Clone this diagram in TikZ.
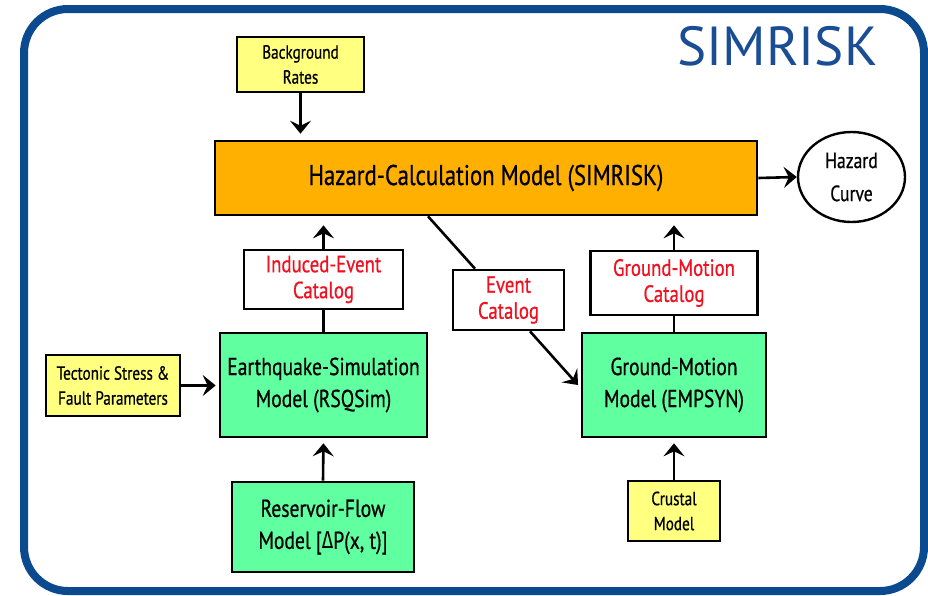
\documentclass[tikz,border=0pt]{standalone}
\usepackage{fontspec}
\setmainfont{PT Sans}[FakeStretch=0.8,FakeBold=0.6]
\newfontfamily\titlefont{PT Sans}
\newfontfamily\grk{Fira Sans}[FakeStretch=0.8]
\usetikzlibrary{arrows.meta,shapes.geometric}
\definecolor{frameblue}{HTML}{0B4A8F}
\definecolor{titleblue}{HTML}{1A4D94}
\definecolor{hazorange}{HTML}{FFB000}
\definecolor{modgreen}{HTML}{60FFA0}
\definecolor{inyellow}{HTML}{FFFF80}
\definecolor{catred}{HTML}{F01020}
\tikzset{
  box/.style={draw=black, line width=2.6pt, rectangle, align=center, inner sep=0pt},
  hazbox/.style={box, fill=hazorange, font=\fontsize{28.5}{32}\selectfont},
  modbox/.style={box, fill=modgreen, font=\fontsize{24.5}{32}\selectfont},
  inbox/.style={box, fill=inyellow, font=\fontsize{19}{25}\selectfont},
  catbox/.style={box, fill=white, text=catred, font=\fontsize{23.5}{26}\selectfont},
  conn/.style={line width=2.6pt, draw=black},
  arr/.style={conn, -{Stealth[length=13pt,width=21pt,inset=5pt]}},
}
\begin{document}
\begin{tikzpicture}[x=1pt,y=-1pt]
\useasboundingbox (0,0) rectangle (928,595);
\draw[line width=8pt, frameblue, rounded corners=44pt] (24,9) rectangle (924,591);
\node[anchor=base, text=titleblue, font=\titlefont\fontsize{55}{60}\selectfont] (title) at (777.5,65) {SIMRISK};
\node[inbox, minimum width=127pt, minimum height=55pt] (bg) at (300.5,64.5) {Background\\Rates};
\node[hazbox, minimum width=542pt, minimum height=74pt] (haz) at (486,178) {Hazard-Calculation Model (SIMRISK)};
\node[ellipse, draw=black, line width=2.4pt, fill=white, minimum width=107pt, minimum height=90pt, inner sep=0pt, align=center, font=\fontsize{22}{33}\selectfont] (curve) at (851.5,177) {Hazard\\Curve};
\node[catbox, minimum width=159pt, minimum height=59pt] (ind) at (323.5,279.5) {Induced-Event\\Catalog};
\node[modbox, minimum width=207pt, minimum height=104pt] (eq) at (323.5,385) {Earthquake-Simulation\\Model (RSQSim)};
\node[inbox, minimum width=134pt, minimum height=61pt] (tect) at (113,385.5) {Tectonic Stress \&\\Fault Parameters};
\node[modbox, minimum width=182pt, minimum height=90pt] (res) at (323,527) {Reservoir-Flow\\Model [{\grk Δ}P(x, t)]};
\node[catbox, minimum width=111pt, minimum height=60pt] (evt) at (508.5,300) {Event\\Catalog};
\node[catbox, minimum width=167pt, minimum height=64pt] (gmc) at (674,283) {Ground-Motion\\Catalog};
\node[modbox, minimum width=184pt, minimum height=104pt] (gm) at (674,385) {Ground-Motion\\Model (EMPSYN)};
\node[inbox, minimum width=92pt, minimum height=60pt] (crust) at (674,511) {Crustal\\Model};
\draw[arr, shorten >=6pt] (bg.south) -- (bg.south |- haz.north);
\draw[arr] (haz.east) -- (curve.west);
\draw[arr, shorten >=9pt] (ind.north) -- (ind.north |- haz.south);
\draw[conn] (ind.south) -- (eq.north);
\draw[arr, shorten >=3pt] (tect.east) -- (tect.east -| eq.west);
\draw[arr, shorten >=5pt] (res.north) -- (eq.south);
\draw[conn] ([xshift=-58pt]haz.south) -- ([xshift=-33.5pt]evt.north);
\draw[arr, shorten >=4pt] ([xshift=21.5pt]evt.south) -- ([yshift=-3pt]gm.west);
\draw[arr, shorten >=9pt] (gmc.north) -- (gmc.north |- haz.south);
\draw[conn] (gmc.south) -- (gm.north);
\draw[arr, shorten >=5pt] (crust.north) -- (gm.south);
\end{tikzpicture}
\end{document}
